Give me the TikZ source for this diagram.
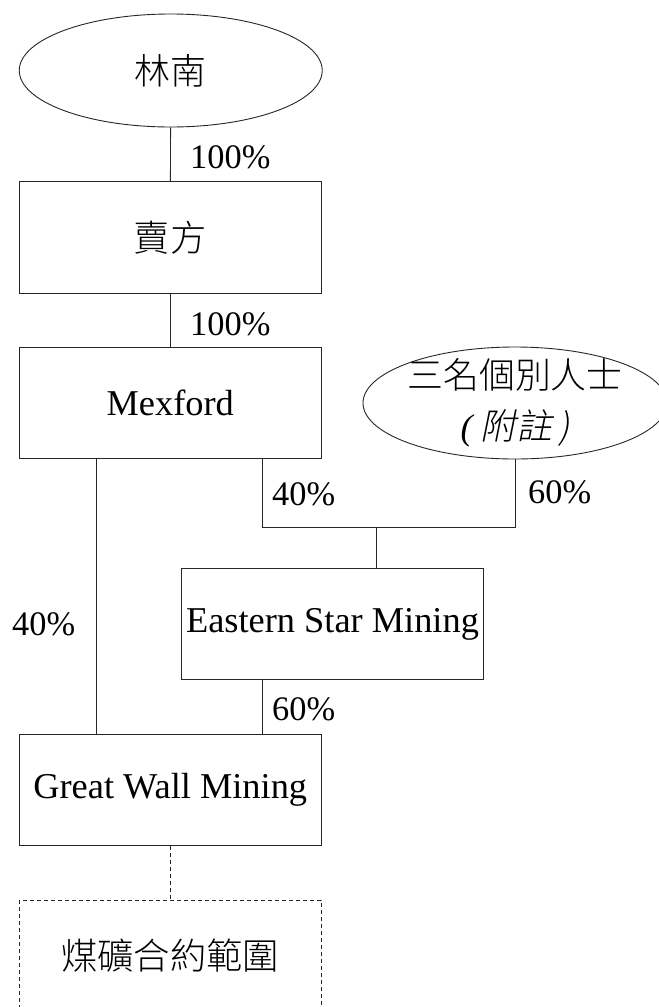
\documentclass[tikz,border=0pt]{standalone}
\usepackage{fontspec}
\setmainfont{Liberation Serif}
\newfontfamily\cjk{Noto Sans CJK TC Light}
\newfontfamily\cjkit{Noto Sans CJK TC Light}[FakeSlant=0.2]
\usetikzlibrary{shapes.geometric}
\begin{document}
\begin{tikzpicture}[x=1bp,y=-1bp,
  ln/.style={line width=0.9bp, draw=black!85},
  box/.style={ln, rectangle, inner sep=0pt, minimum width=301.5bp, minimum height=111.5bp, font=\fontsize{36.5}{40}\selectfont},
  oval/.style={ln, ellipse, inner sep=0pt, minimum width=303bp, minimum height=113bp, font=\fontsize{36}{40}\selectfont, align=center},
  pct/.style={anchor=base west, inner sep=0pt, font=\fontsize{34.5}{38}\selectfont},
  dbox/.style={box, dash pattern=on 4bp off 3bp}
]
\clip (0,0) rectangle (659,1007);
\node[oval] (lin) at (170.75,70.5) {\cjk 林南};
\node[box] (seller) at (170.25,237.5) {\cjk 賣方};
\node[box] (mex) at (170.25,403) {Mexford};
\node[oval, minimum width=304bp, minimum height=112bp] (ind) at (515,403) {};
\node[inner sep=0pt, align=center, font=\fontsize{36}{40}\selectfont] (indtxt) at (ind.center) {\cjk 三名個別人士\\[11bp]\textit{(}\,\cjkit 附註\,\textit{)}};
\node[box] (east) at (332.5,624) {Eastern Star Mining};
\node[box] (gw) at (170.25,790) {Great Wall Mining};
\node[dbox] (coal) at (170.25,956) {\cjk 煤礦合約範圍};

\coordinate (j1) at (262,527);
\coordinate (j2) at (515,527);
\coordinate (jm) at (376,527);
\coordinate (lft) at (96,600);
\coordinate (r60) at (262,700);

\draw[ln] (lin) -- (seller);
\draw[ln] (seller) -- (mex);
\draw[ln] (mex.south -| j1) -- (j1) -- (j2) -- (ind.south);
\draw[ln] (jm) -- (east.north -| jm);
\draw[ln] (mex.south -| lft) -- (gw.north -| lft);
\draw[ln] (east.south -| r60) -- (gw.north -| r60);
\draw[ln, dash pattern=on 4bp off 3bp] (gw) -- (coal);

\node[pct] (p1) at (190,168) {100\%};
\node[pct] (p2) at (190,335) {100\%};
\node[pct] (p3) at (272,505) {40\%};
\node[pct] (p4) at (528,503) {60\%};
\node[pct] (p5) at (12,635) {40\%};
\node[pct] (p6) at (272,720) {60\%};
\end{tikzpicture}
\end{document}
